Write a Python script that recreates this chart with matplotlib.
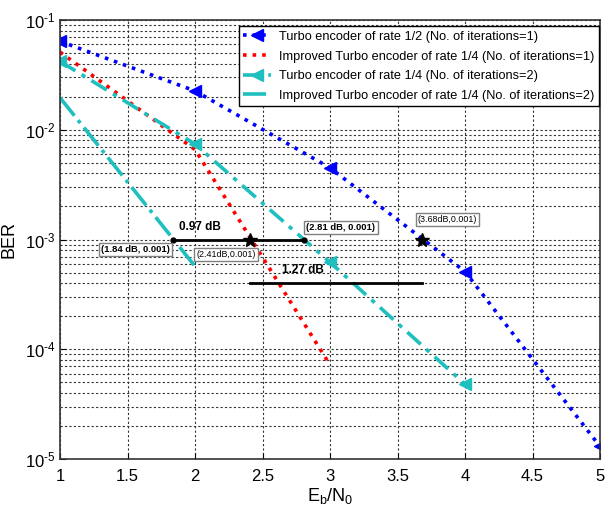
import matplotlib
matplotlib.use("Agg")
import matplotlib.pyplot as plt
from matplotlib import font_manager as fm
from matplotlib.ticker import FixedLocator, LogLocator, NullFormatter, FuncFormatter
import numpy as np

names = {f.name for f in fm.fontManager.ttflist}
narrow = 'Liberation Sans Narrow' if 'Liberation Sans Narrow' in names else 'Liberation Sans'
plt.rcParams['font.family'] = [narrow, 'DejaVu Sans']
plt.rcParams['mathtext.fontset'] = 'custom'
plt.rcParams['mathtext.rm'] = narrow

# Data
ebn0_blue = [1, 2, 3, 4, 5]
ber_turbo12_it1 = [0.064, 0.0226, 0.0045, 5.1e-4, 1.3e-5]
ebn0_red = [1, 2, 3]
ber_imp14_it1 = [0.051, 0.0066, 7.2e-5]
ebn0_cyan = [1, 2, 3, 4]
ber_turbo14_it2 = [0.042, 0.0074, 6.2e-4, 4.8e-5]
ebn0_cyan2 = [1, 2]
ber_imp14_it2 = [0.0196, 5.7e-4]

labels = ['Turbo encoder of rate 1/2 (No. of iterations=1)',
          'Improved Turbo encoder of rate 1/4 (No. of iterations=1)',
          'Turbo encoder of rate 1/4 (No. of iterations=2)',
          'Improved Turbo encoder of rate 1/4 (No. of iterations=2)']

gap1_x = [1.84, 2.81]
gap1_y = [1e-3, 1e-3]
gap2_x = [2.41, 3.68]
gap2_y = [4.05e-4, 4.05e-4]
stars_x = [2.41, 3.68]
stars_y = [1e-3, 1e-3]

xticks = [1, 1.5, 2, 2.5, 3, 3.5, 4, 4.5, 5]
xticklabels = ['1', '1.5', '2', '2.5', '3', '3.5', '4', '4.5', '5']

cyan = '#1fbfbf'

fig = plt.figure(figsize=(6.11, 5.08), dpi=100)
ax = fig.add_axes([60/611, 1-459/508, 540/611, 439/508])

ax.semilogy(ebn0_blue, ber_turbo12_it1, color='blue', ls=':', lw=2.6,
            marker='<', ms=9, label=labels[0])
ax.semilogy(ebn0_red, ber_imp14_it1, color='red', ls=':', lw=2.6, label=labels[1])
ax.semilogy(ebn0_cyan, ber_turbo14_it2, color=cyan, ls=(0, (5, 2, 1.2, 2)), lw=2.6,
            marker='<', ms=9, label=labels[2])
ax.semilogy(ebn0_cyan2, ber_imp14_it2, color=cyan, ls='-.', lw=2.6, label=labels[3])

ax.plot(gap1_x, gap1_y, color='black', lw=2, marker='o', ms=3.5)
ax.plot(gap2_x, gap2_y, color='black', lw=2)
ax.plot(stars_x, stars_y, ls='none', marker='*', color='black', ms=10)

ax.text(2.04, 1.3e-3, '0.97 dB', fontsize=8.5, fontweight='bold', ha='center', va='center')
ax.text(2.80, 5.25e-4, '1.27 dB', fontsize=8.5, fontweight='bold', ha='center', va='center')

box = dict(boxstyle='square,pad=0.25', fc='white', ec='#808080', lw=1)
ax.text(1.56, 8.1e-4, '(1.84 dB, 0.001)', fontsize=6.8, fontweight='bold',
        ha='center', va='center', bbox=box)
ax.text(3.08, 1.29e-3, '(2.81 dB, 0.001)', fontsize=6.8, fontweight='bold',
        ha='center', va='center', bbox=box)
ax.text(2.23, 7.3e-4, '(2.41dB,0.001)', fontsize=6.4, ha='center', va='center', bbox=box)
ax.text(3.87, 1.52e-3, '(3.68dB,0.001)', fontsize=6.4, ha='center', va='center', bbox=box)

ax.set_xlim(1, 5)
ax.set_ylim(1e-5, 1e-1)
ax.xaxis.set_major_locator(FixedLocator(xticks))
ax.set_xticklabels(xticklabels)
ax.yaxis.set_major_locator(LogLocator(base=10, numticks=10))
ax.yaxis.set_minor_locator(LogLocator(base=10, subs=range(2, 10), numticks=10))
ax.yaxis.set_minor_formatter(NullFormatter())
ax.yaxis.set_major_formatter(FuncFormatter(
    lambda v, p: '$\\mathregular{10^{\\text{-}%d}}$' % round(-np.log10(v))))
ax.tick_params(axis='both', which='both', direction='in', labelsize=12)
ax.tick_params(axis='y', which='major', labelsize=12, pad=3)
ax.tick_params(axis='x', which='major', pad=7)
ax.tick_params(axis='y', which='minor', length=0)
ax.tick_params(axis='both', which='major', length=4)
ax.grid(True, which='major', axis='both', color='#333333', ls=(0, (2, 2)), lw=0.8)
ax.grid(True, which='minor', axis='y', color='#333333', ls=(0, (2, 2)), lw=0.8)
for s in ax.spines.values():
    s.set_linewidth(1.2)
    s.set_color('#333333')

ax.set_ylabel('BER', fontsize=13)
ax.yaxis.set_label_coords(-0.078, 0.5)
ax.set_xlabel('$\\mathregular{E_b/N_0}$', fontsize=13, labelpad=2)

leg = ax.legend(loc='upper right', bbox_to_anchor=(1.01, 1.0), fontsize=9.2,
                frameon=True, fancybox=False, edgecolor='black', framealpha=1,
                handlelength=2.2, borderpad=0.35, labelspacing=0.6, handletextpad=0.6,
                markerscale=1.0)
leg.get_frame().set_linewidth(1.0)

fig.savefig('out.png', dpi=100)
